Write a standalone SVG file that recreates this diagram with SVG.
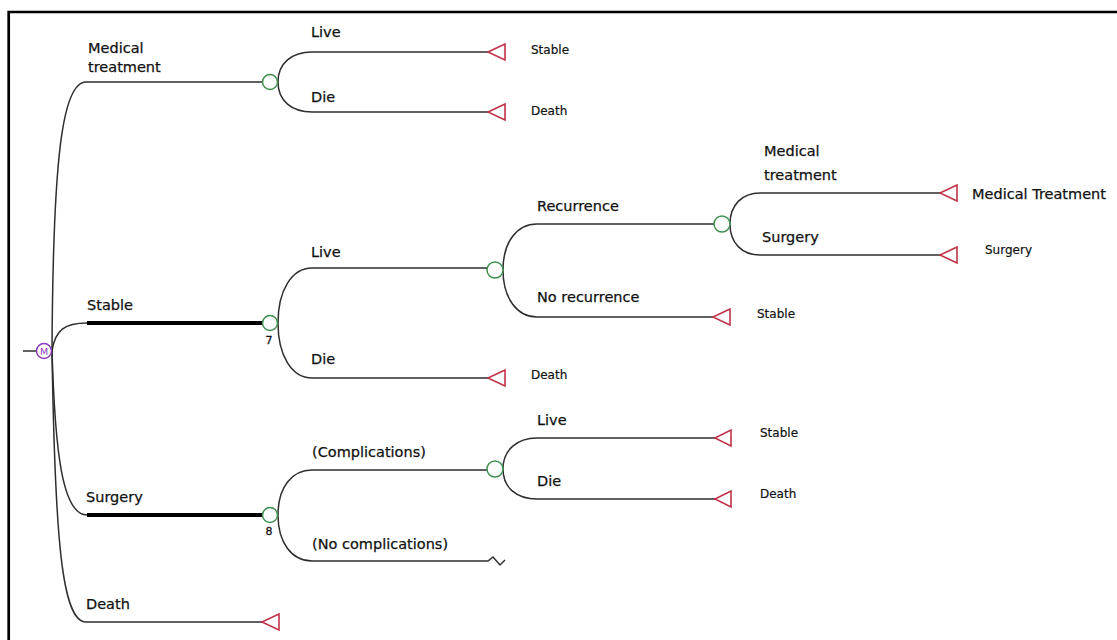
<svg xmlns="http://www.w3.org/2000/svg" width="1117" height="640" viewBox="0 0 1117 640">
<defs>
<style>
.ln{fill:none;stroke:#2e2e2e;stroke-width:1.5}
.thick{fill:none;stroke:#000;stroke-width:4}
.ch{fill:#fff;stroke:#3f8f50;stroke-width:1.5}
.tm{fill:#fff;stroke:#c0334a;stroke-width:1.6;stroke-linejoin:miter}
.lbl{font-family:"DejaVu Sans",sans-serif;font-size:14.5px;fill:#111;stroke:#111;stroke-width:0.25}
.sm{font-family:"DejaVu Sans",sans-serif;font-size:12px;fill:#111;stroke:#111;stroke-width:0.2}
.num{font-family:"DejaVu Sans",sans-serif;font-size:11px;fill:#111;stroke:#111;stroke-width:0.3;text-anchor:middle}
</style>
</defs>
<rect width="1117" height="640" fill="#fff"/>
<path d="M8.7 640 V12 H1117" fill="none" stroke="#000" stroke-width="2.7"/>

<g id="connectors">
  <line class="ln" x1="23" y1="351" x2="36" y2="351"/>
  <path class="ln" d="M52 351 C53 160 62 82 86 82 L262 82"/>
  <path class="ln" d="M52 351 C55 330 65 323 87 323"/>
  <path class="thick" d="M87 323 L262 323"/>
  <path class="ln" d="M52 351 C55 450 62 515 87 515"/>
  <path class="thick" d="M87 515 L262 515"/>
  <path class="ln" d="M52 351 C55 540 62 622 86 622 L262 622"/>
  <path class="ln" d="M278 82 C278 63 292 52 312 52 L488 52"/>
  <path class="ln" d="M278 82 C278 101 292 112 312 112 L488 112"/>
  <path class="ln" d="M278 323 C278 290 292 268 312 268 L487 268"/>
  <path class="ln" d="M278 323 C278 356 292 378 312 378 L488 378"/>
  <path class="ln" d="M503 270 C503 242 517 224 537 224 L714 224"/>
  <path class="ln" d="M503 270 C503 298 517 317 537 317 L713 317"/>
  <path class="ln" d="M730 224 C730 205 742 193 760 193 L940 193"/>
  <path class="ln" d="M730 224 C730 243 742 255 760 255 L940 255"/>
  <path class="ln" d="M278 515 C278 487 292 470 312 470 L487 470"/>
  <path class="ln" d="M278 515 C278 543 292 561 312 561 L488 561 L493 557 L500 565 L505 560"/>
  <path class="ln" d="M503 469 C503 450 517 438 537 438 L715 438"/>
  <path class="ln" d="M503 469 C503 488 517 499 537 499 L715 499"/>
</g>

<g id="node-markov">
  <circle cx="44" cy="351" r="7.5" fill="#fff" stroke="#8a3ab9" stroke-width="1.5"/>
  <text x="44" y="354.5" font-family="DejaVu Sans, sans-serif" font-size="9.5" fill="#8a3ab9" text-anchor="middle">M</text>
</g>

<g id="node-c1"><circle class="ch" cx="270" cy="82" r="7.5"/></g>
<g id="node-c2"><circle class="ch" cx="270" cy="323" r="7.5"/><text class="num" x="269" y="344">7</text></g>
<g id="node-c3"><circle class="ch" cx="270" cy="515" r="7.5"/><text class="num" x="269" y="535">8</text></g>
<g id="node-c4"><circle class="ch" cx="495" cy="270" r="8"/></g>
<g id="node-c5"><circle class="ch" cx="722" cy="224" r="8"/></g>
<g id="node-c6"><circle class="ch" cx="495" cy="469" r="8"/></g>

<g id="node-t1"><polygon class="tm" points="488,52 505,44 505,60"/></g>
<g id="node-t2"><polygon class="tm" points="488,112 505,104 505,120"/></g>
<g id="node-t3"><polygon class="tm" points="940,193 957,185 957,201"/></g>
<g id="node-t4"><polygon class="tm" points="940,255 957,247 957,263"/></g>
<g id="node-t5"><polygon class="tm" points="713,317 730,309 730,325"/></g>
<g id="node-t6"><polygon class="tm" points="488,378 505,370 505,386"/></g>
<g id="node-t7"><polygon class="tm" points="715,438 731,430 731,446"/></g>
<g id="node-t8"><polygon class="tm" points="715,499 731,491 731,507"/></g>
<g id="node-t9"><polygon class="tm" points="262,622 279,614 279,630"/></g>

<g id="labels">
  <text class="lbl" x="88" y="53">Medical</text>
  <text class="lbl" x="88" y="72">treatment</text>
  <text class="lbl" x="87" y="310">Stable</text>
  <text class="lbl" x="86" y="502">Surgery</text>
  <text class="lbl" x="86" y="609">Death</text>
  <text class="lbl" x="311" y="37">Live</text>
  <text class="lbl" x="311" y="102">Die</text>
  <text class="lbl" x="311" y="257">Live</text>
  <text class="lbl" x="311" y="364">Die</text>
  <text class="lbl" x="537" y="211">Recurrence</text>
  <text class="lbl" x="537" y="302">No recurrence</text>
  <text class="lbl" x="764" y="156">Medical</text>
  <text class="lbl" x="764" y="180">treatment</text>
  <text class="lbl" x="762" y="242">Surgery</text>
  <text class="lbl" x="972" y="199">Medical Treatment</text>
  <text class="lbl" x="312" y="457">(Complications)</text>
  <text class="lbl" x="312" y="549">(No complications)</text>
  <text class="lbl" x="537" y="425">Live</text>
  <text class="lbl" x="537" y="486">Die</text>
  <text class="sm" x="531" y="54">Stable</text>
  <text class="sm" x="531" y="115">Death</text>
  <text class="sm" x="757" y="318">Stable</text>
  <text class="sm" x="531" y="379">Death</text>
  <text class="sm" x="760" y="437">Stable</text>
  <text class="sm" x="760" y="498">Death</text>
  <text class="sm" x="985" y="254" font-size="11.5">Surgery</text>
</g>
</svg>
